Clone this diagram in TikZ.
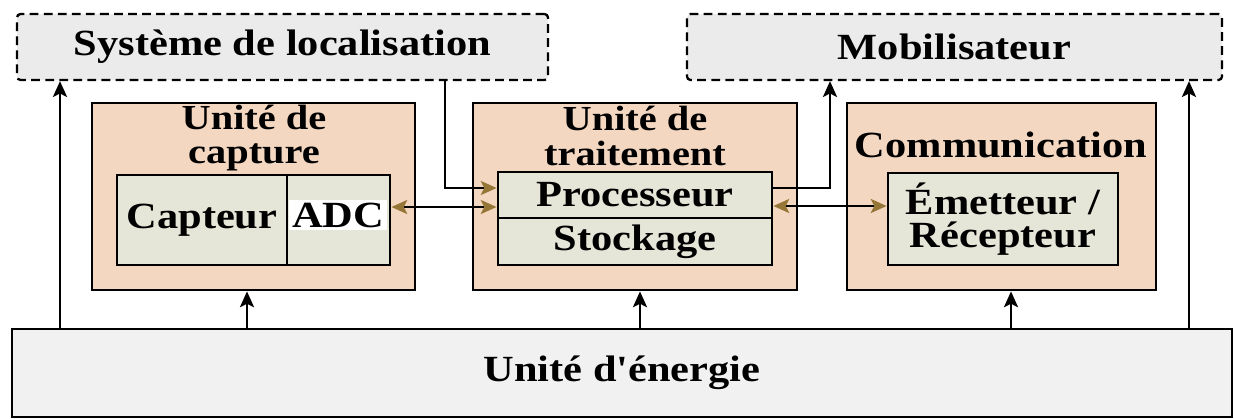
\documentclass[tikz,border=0pt]{standalone}
\usepackage{fontspec}
\setmainfont{Liberation Serif}[FakeStretch=1.15, Ligatures=TeXOff]
\usetikzlibrary{arrows.meta,fit}
\definecolor{peach}{RGB}{244,215,192}
\definecolor{sage}{RGB}{229,229,216}
\definecolor{pale}{RGB}{235,235,235}
\definecolor{palest}{RGB}{241,241,241}
\definecolor{olivebrown}{RGB}{150,118,55}
\begin{document}
\begin{tikzpicture}[x=0.02cm, y=-0.02cm, font=\bfseries\fontsize{21}{18}\selectfont, >={Stealth[length=9pt,width=8pt,inset=2pt]}, line width=1.4pt,
    unitbox/.style={draw, fill=peach, line width=1.6pt, inner sep=0pt},
    partbox/.style={draw, fill=sage, line width=1.6pt, inner sep=0pt},
    extbox/.style={draw, fill=pale, line width=1.3pt, dash pattern=on 5pt off 3pt, rounded corners=2pt, inner sep=0pt},
    titre/.style={align=center, font=\bfseries\fontsize{20}{19.5}\selectfont},
    brtip/.style={-{Stealth[length=9pt,width=8pt,inset=2pt,olivebrown]}},
    brboth/.style={{Stealth[length=9pt,width=8pt,inset=2pt,olivebrown]}-{Stealth[length=9pt,width=8pt,inset=2pt,olivebrown]}}]
    \useasboundingbox (0,0) rectangle (1234,419);
    % blocs externes
    \node[extbox, fit={(17,14) (548,80)}, label=center:Système de localisation] (loc) {};
    \node[extbox, fit={(687,14) (1222,80)}, label=center:Mobilisateur] (mob) {};
    \node[draw, fill=palest, line width=1.4pt, inner sep=0pt, fit={(12,329) (1232,417)}, label=center:Unité d'énergie] (energie) {};
    % unite de capture
    \node[unitbox, fit={(92,103) (415,290)}] (capture) {};
    \node[titre] (captit) at (254,138) {Unité de\\capture};
    \node[partbox, fit={(117,175) (287,265)}, label=center:Capteur] (capteur) {};
    \node[partbox, fit={(287,175) (390,265)}] (adc) {};
    \node[fill=white, inner sep=1.5pt] (adctxt) at (338,215) {ADC};
    % unite de traitement
    \node[unitbox, fit={(473,103) (797,290)}] (traitement) {};
    \node[titre] (traittit) at (635,136) {Unité de\\traitement};
    \node[partbox, fit={(498,172) (772,218)}, label=center:Processeur] (proc) {};
    \node[partbox, fit={(498,218) (772,265)}, label=center:Stockage] (stock) {};
    % communication
    \node[unitbox, fit={(847,103) (1156,290)}] (comm) {};
    \node (commtit) at (1001,145) {Communication};
    \node[partbox, fit={(888,173) (1118,265)}] (emet) {};
    \node[align=center, font=\bfseries\fontsize{21}{19}\selectfont] (emettxt) at (emet) {Émetteur /\\Récepteur};
    % alimentation
    \draw[->] (energie.north -| 60,0) -- (loc.south -| 60,0);
    \draw[->] (energie.north -| 247,0) -- (capture.south -| 247,0);
    \draw[->] (energie.north -| 640,0) -- (traitement.south -| 640,0);
    \draw[->] (energie.north -| 1011,0) -- (comm.south -| 1011,0);
    \draw[->] (energie.north -| 1189,0) -- (mob.south -| 1189,0);
    % liaisons
    \draw[brtip] (loc.south -| 445,0) |- (proc.west |- 0,188);
    \draw[brboth] (adc.east |- 0,207) -- (proc.west |- 0,207);
    \draw[->] (proc.east |- 0,188) -| (mob.south -| 830,0);
    \draw[brboth] (proc.east |- 0,206) -- (emet.west |- 0,206);
\end{tikzpicture}
\end{document}
